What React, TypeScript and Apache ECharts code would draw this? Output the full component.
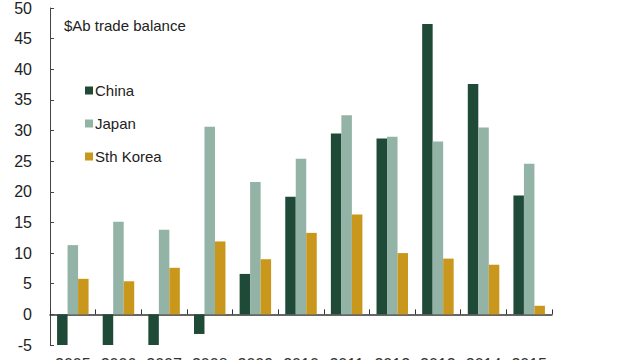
import React, { useEffect, useRef } from "react";
import * as echarts from "echarts";

const years = ["2005", "2006", "2007", "2008", "2009", "2010", "2011", "2012", "2013", "2014", "2015"];
const china = [-5, -5, -5, -3.2, 6.6, 19.2, 29.5, 28.7, 47.4, 37.6, 19.4];
const japan = [11.3, 15.1, 13.8, 30.6, 21.6, 25.4, 32.5, 29.0, 28.2, 30.5, 24.6];
const korea = [5.8, 5.4, 7.6, 11.9, 9.0, 13.3, 16.3, 10.0, 9.1, 8.1, 1.4];
const seriesNames = ["China", "Japan", "Sth Korea"];
const colors = ["#1f4a38", "#93b3a6", "#c8971c"];
const titleText = "$Ab trade balance";

const FONT = "Liberation Sans, Arial, sans-serif";

export default function App() {
  const ref = useRef<HTMLDivElement>(null);
  useEffect(() => {
    if (!ref.current) return;
    const chart = echarts.init(ref.current, undefined, { renderer: "svg" });
    const data = [china, japan, korea];
    chart.setOption({
      animation: false,
      backgroundColor: "#ffffff",
      textStyle: { fontFamily: FONT },
      grid: { left: 50, right: 88, top: 8, bottom: 15, containLabel: false, outerBoundsMode: "none" },
      title: {
        text: titleText,
        left: 59,
        top: 13,
        textStyle: { fontFamily: FONT, fontSize: 15, fontWeight: "normal", color: "#222" },
      },
      legend: {
        data: seriesNames,
        orient: "vertical",
        left: 80,
        top: 78,
        itemWidth: 8,
        itemHeight: 8,
        itemGap: 18,
        icon: "rect",
        textStyle: { fontFamily: FONT, fontSize: 15, color: "#222", padding: [0, 0, 0, -3] },
      },
      xAxis: [
        {
          type: "category",
          data: years,
          axisLine: { onZero: true, lineStyle: { color: "#333", width: 1.5 } },
          axisTick: { show: true, inside: true, length: 5, lineStyle: { color: "#333" } },
          axisLabel: { show: false },
          splitLine: { show: false },
        },
        {
          type: "category",
          data: years,
          position: "bottom",
          axisLine: { show: false, onZero: false },
          axisTick: { show: false },
          axisLabel: { show: true, margin: 11, fontSize: 16, color: "#333", fontFamily: FONT, interval: 0 },
        },
      ],
      yAxis: {
        type: "value",
        min: -5,
        max: 50,
        interval: 5,
        axisLine: { show: true, lineStyle: { color: "#444", width: 1 } },
        axisTick: { show: true, inside: true, length: 4, lineStyle: { color: "#444" } },
        axisLabel: { fontSize: 16, color: "#222", margin: 18, fontFamily: FONT },
        splitLine: { show: false },
      },
      series: seriesNames.map((name, i) => ({
        name,
        type: "bar",
        xAxisIndex: 0,
        data: data[i],
        barWidth: 10.5,
        barGap: "0%",
        itemStyle: { color: colors[i] },
      })),
    });
    return () => chart.dispose();
  }, []);
  return <div ref={ref} style={{ width: 640, height: 360, position: "absolute", left: 0, top: 0 }} />;
}
